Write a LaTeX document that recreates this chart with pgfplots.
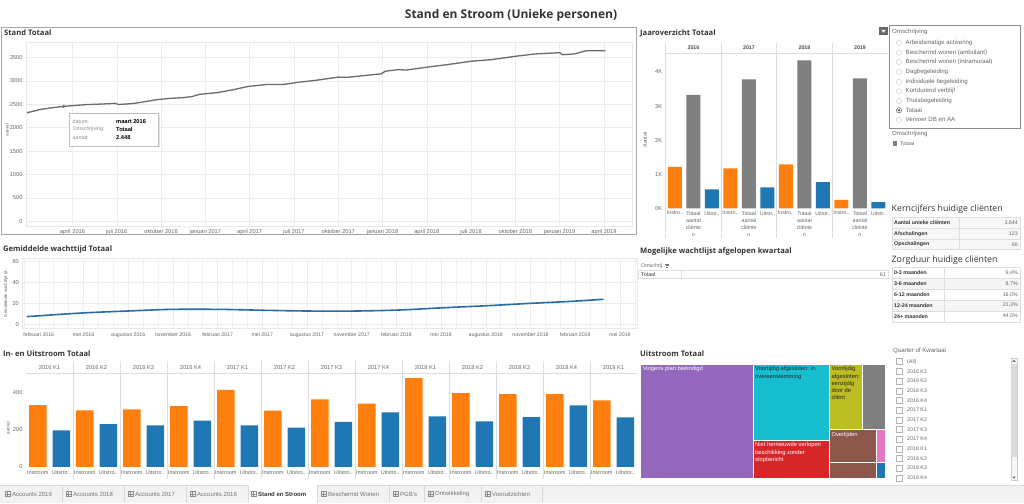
\documentclass[border=0pt]{standalone}
\usepackage{pgfplots}
\pgfplotsset{compat=1.18}
\usepackage{fontspec}
\setmainfont{Liberation Sans}
\newfontfamily\tfont{Open Sans}
\definecolor{tor}{HTML}{FF7F0E}
\definecolor{tbl}{HTML}{1F77B4}
\definecolor{tgr}{HTML}{7F7F7F}
\definecolor{tpu}{HTML}{9467BD}
\definecolor{tcy}{HTML}{17BECF}
\definecolor{tre}{HTML}{D62728}
\definecolor{tol}{HTML}{BCBD22}
\definecolor{tbr}{HTML}{8C564B}
\definecolor{tpi}{HTML}{E377C2}
\definecolor{txt}{HTML}{333333}
\definecolor{lbl}{HTML}{666666}
\definecolor{gridc}{HTML}{EDEDED}
\definecolor{sep}{HTML}{DDDDDD}
\definecolor{wline}{HTML}{2A6BAA}
\newcommand\fs{\fontsize{5.7}{6.6}\selectfont}
\newcommand\fx{\fontsize{5.3}{6.2}\selectfont}
\newcommand\fy{\fontsize{6.1}{7}\selectfont}
\newcommand\ft{\tfont\bfseries\fontsize{7.6}{9}\selectfont}
\newcommand\trow[6]{%
  \filldraw[draw=black!13, fill=#6] (892,503-#1) rectangle (#3,503-#2);
  \filldraw[draw=black!13, fill=#6] (#3,503-#1) rectangle (1020,503-#2);
  \node[anchor=west, font=\fx\bfseries, text=txt, inner sep=0pt] at (894,{503-(#1+#2)/2}) {#4};
  \node[anchor=east, font=\fx, text=lbl, inner sep=0pt] at (1018,{503-(#1+#2)/2}) {#5};
}
\newcommand\tabicon[1]{%
  \draw[black!45, line width=0.4pt] (#1,503-491.5) rectangle ++(5,-5);
  \draw[black!45, line width=0.4pt] (#1+2.5,503-491.5) -- ++(0,-5);
  \draw[black!45, line width=0.4pt] (#1,503-494) -- ++(5,0);
}
\pgfplotsset{
  tab/.style={scale only axis, axis line style={draw=none}, tick style={draw=none},
    tick label style={font=\fs, text=lbl},
    /pgf/number format/assume math mode=true,
    /pgf/number format/1000 sep={},
    major grid style={draw=gridc, line width=0.5pt}},
}
\begin{document}
\begin{tikzpicture}[x=1pt,y=1pt]
\path[use as bounding box, fill=white] (0,0) rectangle (1024,503);

% main title
\node[font=\tfont\bfseries\fontsize{12}{14}\selectfont, text=txt] at (511,503-15) {Stand en Stroom (Unieke personen)};

% ================= Stand Totaal =================
\draw[black!35, line width=0.9pt] (1.5,503-27) rectangle (636,503-234);
\node[anchor=west, font=\ft, text=txt, inner sep=0pt] at (4,503-33) {Stand Totaal};
\begin{axis}[tab, at={(26pt,277pt)}, anchor=south west, width=606pt, height=184pt,
  axis line style={draw=black!9},
  xmin=-0.15, xmax=40.9, ymin=-100, ymax=3830,
  xtick={3,6,...,39},
  xticklabels={april 2016,juli 2016,oktober 2016,januari 2017,april 2017,juli 2017,oktober 2017,januari 2018,april 2018,juli 2018,oktober 2018,januari 2019,april 2019},
  ytick={0,500,...,3500}, xmajorgrids, ymajorgrids]
\addplot[color=black!58, line width=1.3pt] coordinates {
(-0.08,2318) (0.8,2388) (1.6,2425) (2.4,2455) (3.2,2475) (4,2494) (5,2505) (5.9,2520) (6.1,2495) (7.1,2515)
(8,2560) (8.75,2600) (9.6,2625) (10.5,2642) (11.1,2665) (11.6,2712) (12.8,2748) (13.8,2805) (14.9,2881)
(16.2,2924) (17.3,2924) (18.4,2974) (19.4,3008) (21.0,3080) (21.6,3075) (22.4,3101) (23.9,3150) (24.2,3207)
(25.1,3241) (25.6,3230) (27.0,3292) (28.4,3347) (30.0,3419) (31.4,3453) (33.0,3525) (34.3,3574) (36.0,3602)
(36.2,3559) (37.0,3574) (37.8,3644) (39.1,3644)};
\addplot[only marks, mark=*, mark size=1.3pt, color=black!58] coordinates {(2.4,2455)};
\end{axis}
\node[rotate=90, font=\fontsize{4.5}{5}\selectfont, text=lbl] at (7,503-130) {aantal};
% tooltip
\fill[black!10] (70.5,503-115) rectangle (159.8,503-147.5);
\filldraw[draw=black!25, fill=white] (69,503-113.3) rectangle (158.3,503-146);
\node[anchor=west, font=\fx, text=black!45, inner sep=0pt] at (72.5,503-121.7) {datum:};
\node[anchor=west, font=\fx, text=black!45, inner sep=0pt] at (72.5,503-129.3) {Omschrijving:};
\node[anchor=west, font=\fx, text=black!45, inner sep=0pt] at (72.5,503-137.3) {aantal:};
\node[anchor=west, font=\fs\bfseries, text=black, inner sep=0pt] at (116,503-121.7) {maart 2016};
\node[anchor=west, font=\fs\bfseries, text=black, inner sep=0pt] at (116,503-129.3) {Totaal};
\node[anchor=west, font=\fs\bfseries, text=black, inner sep=0pt] at (116,503-137.3) {2.448};

% ================= Jaaroverzicht =================
\node[anchor=west, font=\ft, text=txt, inner sep=0pt] at (640,503-33) {Jaaroverzicht Totaal};
\foreach \p in {0,1,2,3} {\draw[sep, line width=0.5pt] ({665.7+3*\p*18.5},503-43) -- ({665.7+3*\p*18.5},503-238);}
\draw[sep, line width=0.5pt] (665.7,503-53.3) -- (887.7,503-53.3);
\foreach \lab [count=\p from 0] in {2016,2017,2018,2019} {\node[font=\fx\bfseries, text=black!70] at ({665.7+(3*\p+1.5)*18.5},503-47.7) {\lab};}
\begin{axis}[tab, at={(665.7pt,294pt)}, anchor=south west, width=222pt, height=155.7pt,
  xmin=0, xmax=12, ymin=-15, ymax=4545, clip=false,
  xtick={0.5,1.5,...,11.5},
  xticklabels={Instro..,{Totaal\\aantal\\cliënte\\n},Uitstr..,Instro..,{Totaal\\aantal\\cliënte\\n},Uitstr..,Instro..,{Totaal\\aantal\\cliënte\\n},Uitstr..,Instro..,{Totaal\\aantal\\cliënte\\n},Uitstr..},
  xticklabel style={align=center, font=\fontsize{5.3}{7}\selectfont, text=lbl, inner sep=1pt, yshift=-1pt},
  ytick={0,1000,...,4000}, yticklabels={0K,1K,2K,3K,4K}]
\addplot[ybar, bar width=14pt, bar shift=0pt, fill=tor, draw=none] coordinates {(0.5,1222) (3.5,1173) (6.5,1290) (9.5,254)};
\addplot[ybar, bar width=14pt, bar shift=0pt, fill=tgr, draw=none] coordinates {(1.5,3324) (4.5,3783) (7.5,4340) (10.5,3812)};
\addplot[ybar, bar width=14pt, bar shift=0pt, fill=tbl, draw=none] coordinates {(2.5,557) (5.5,616) (8.5,772) (11.5,185)};
\end{axis}
\node[rotate=90, font=\fx, text=lbl] at (645,503-140) {Aantal};

% ================= Omschrijving filter =================
\fill[black!60] (879,503-27) rectangle (888,503-35.3);
\fill[white] (881.2,503-29.8) -- (885.8,503-29.8) -- (883.5,503-32.6) -- cycle;
\draw[black!45, line width=0.6pt] (889.3,503-25.3) rectangle (1020,503-128.7);
\node[anchor=west, font=\fy, text=lbl, inner sep=0pt] at (892,503-32) {Omschrijving};
\foreach \t/\yy in {Arbeidsmatige activering/42.7, {Beschermd wonen (ambulant)}/52.7, {Beschermd wonen (intramuraal)}/62, Dagbegeleiding/72, Individuele begeleiding/82, Kortdurend verblijf/91.3, Thuisbegeleiding/101, Totaal/110.3, Vervoer DB en AA/119.7}
{\draw[black!22, line width=0.4pt] (899,503-\yy) circle (2.6);
 \node[anchor=west, font=\fy, text=lbl, inner sep=0pt] at (905.5,503-\yy) {\t};}
\draw[black!55, line width=0.5pt] (899,503-110.3) circle (2.6);
\fill[black!75] (899,503-110.3) circle (1.2);
\node[anchor=west, font=\fy, text=lbl, inner sep=0pt] at (892,503-134.3) {Omschrijving};
\fill[tgr] (892.7,503-141.3) rectangle (897.3,503-145.7);
\node[anchor=west, font=\fx, text=lbl, inner sep=0pt] at (899.8,503-143.5) {Totaal};

% ================= Kerncijfers / Zorgduur =================
\node[anchor=west, font=\tfont\fontsize{8.8}{10}\selectfont, text=txt, inner sep=0pt] at (891.5,503-209.3) {Kerncijfers huidige cliënten};
\trow{217.7}{228.3}{959}{Aantal unieke cliënten}{3.644}{black!3}
\trow{228.3}{239}{959}{Afschalingen}{123}{black!3}
\trow{239}{249.6}{959}{Opschalingen}{66}{black!3}
\node[anchor=west, font=\tfont\fontsize{8.8}{10}\selectfont, text=txt, inner sep=0pt] at (891.5,503-260.3) {Zorgduur huidige cliënten};
\trow{267.2}{278.1}{944}{0-3 maanden}{9,4\%}{white}
\trow{278.1}{289.1}{944}{3-6 maanden}{8,7\%}{black!4}
\trow{289.1}{300}{944}{6-12 maanden}{16,0\%}{white}
\trow{300}{310.9}{944}{12-24 maanden}{21,3\%}{black!4}
\trow{310.9}{321.8}{944}{24+ maanden}{44,5\%}{white}

% ================= Gemiddelde wachttijd =================
\node[anchor=west, font=\ft, text=txt, inner sep=0pt] at (3,503-249.5) {Gemiddelde wachttijd Totaal};
\begin{axis}[tab, at={(22.4pt,175pt)}, anchor=south west, width=614.6pt, height=69.7pt,
  axis line style={draw=black!9},
  xmin=-0.1, xmax=41.15, ymin=-3.8, ymax=63.2, ytick={0,20,40,60},
  xtick={1,4,...,40},
  xticklabels={februari 2016,mei 2016,augustus 2016,november 2016,februari 2017,mei 2017,augustus 2017,november 2017,februari 2018,mei 2018,augustus 2018,november 2018,februari 2019,mei 2019},
  minor xtick={0,1,...,41}, xminorgrids, xmajorgrids, ymajorgrids,
  minor grid style={draw=gridc!70, line width=0.4pt},
  xticklabel style={font=\fontsize{5.2}{6}\selectfont, yshift=-1pt}]
\addplot[wline, line width=1.6pt, smooth] coordinates {
(0.18,7.1) (3.87,10.6) (7.43,12.8) (9.9,14.1) (13.2,14.1) (16.2,13.2) (19.2,12.5) (22.2,12.5) (25.2,13.5)
(28.2,15.7) (31.2,17.7) (34.0,19.9) (36.7,21.8) (38.9,23.8)};
\end{axis}
\node[rotate=90, font=\fontsize{4.3}{5}\selectfont, text=lbl] at (6,503-293) {Gemiddelde wachttijd (d..};

% ================= Mogelijke wachtlijst =================
\node[anchor=west, font=\ft, text=txt, inner sep=0pt] at (640,503-252) {Mogelijke wachtlijst afgelopen kwartaal};
\node[anchor=west, font=\fx, text=lbl, inner sep=0pt] at (641,503-265.7) {Omschrij..};
\draw[black!55, line width=0.5pt] (665,503-263.8) -- ++(4,0) (665.5,503-265.6) -- ++(3,0) (666,503-267.4) -- ++(2,0);
\draw[black!13] (638,503-270.7) rectangle (888,503-278.3);
\draw[black!13] (681,503-270.7) -- (681,503-278.3);
\node[anchor=west, font=\fx, text=txt, inner sep=0pt] at (641,503-274.5) {Totaal};
\node[anchor=east, font=\fx, text=lbl, inner sep=0pt] at (886,503-274.5) {61};

% ================= In- en Uitstroom =================
\node[anchor=west, font=\ft, text=txt, inner sep=0pt] at (3,503-353.5) {In- en Uitstroom Totaal};
\foreach \i in {1,...,12} {\draw[sep, line width=0.5pt] ({26+2*\i*23.5},503-361) -- ({26+2*\i*23.5},503-479);}
\draw[sep, line width=0.5pt] (26,503-373.3) -- (637,503-373.3);
\foreach \lab [count=\i from 0] in {2016 K1,2016 K2,2016 K3,2016 K4,2017 K1,2017 K2,2017 K3,2017 K4,2018 K1,2018 K2,2018 K3,2018 K4,2019 K1}
{\node[font=\fs, text=lbl] at ({26+(2*\i+1)*23.5},503-367.5) {\lab};}
\begin{axis}[tab, at={(26pt,35.5pt)}, anchor=south west, width=611pt, height=94.2pt,
  xmin=0, xmax=26, ymin=-4, ymax=505, ytick={0,200,400}, clip=false,
  xtick={0.5,1.5,...,25.5},
  xticklabels={Instroom,Uitstro..,Instroom,Uitstro..,Instroom,Uitstro..,Instroom,Uitstro..,Instroom,Uitstro..,Instroom,Uitstro..,Instroom,Uitstro..,Instroom,Uitstro..,Instroom,Uitstro..,Instroom,Uitstro..,Instroom,Uitstro..,Instroom,Uitstro..,Instroom,Uitstro..},
  xticklabel style={font=\fontsize{5.5}{6.4}\selectfont, inner sep=1pt, text height=4.2pt, text depth=1pt, yshift=-1.5pt}]
\addplot[ybar, bar width=17.5pt, bar shift=0pt, fill=tor, draw=none] coordinates {
(0.5,333) (2.5,305) (4.5,310) (6.5,328) (8.5,416) (10.5,303) (12.5,364) (14.5,341) (16.5,479) (18.5,398) (20.5,393) (22.5,393) (24.5,359)};
\addplot[ybar, bar width=17.5pt, bar shift=0pt, fill=tbl, draw=none] coordinates {
(1.5,196) (3.5,231) (5.5,223) (7.5,249) (9.5,223) (11.5,211) (13.5,243) (15.5,294) (17.5,272) (19.5,245) (21.5,268) (23.5,332) (25.5,267)};
\end{axis}
\node[rotate=90, font=\fontsize{4.5}{5}\selectfont, text=lbl] at (8,503-428) {aantal};

% ================= Uitstroom treemap =================
\node[anchor=west, font=\ft, text=txt, inner sep=0pt] at (640,503-353.5) {Uitstroom Totaal};
\begin{axis}[at={(640.7pt,24.7pt)}, anchor=south west, scale only axis, width=244.6pt, height=114pt,
  xmin=640.7, xmax=885.3, ymin=364.3, ymax=478.3, y dir=reverse, hide axis, clip=false]
\addplot[fill=tpu, draw=white, line width=0.8pt] coordinates {(640.7,364.3) (753,364.3) (753,478.3) (640.7,478.3) (640.7,364.3)};
\addplot[fill=tcy, draw=white, line width=0.8pt] coordinates {(753,364.3) (829.7,364.3) (829.7,440.7) (753,440.7) (753,364.3)};
\addplot[fill=tre, draw=white, line width=0.8pt] coordinates {(753,440.7) (829.7,440.7) (829.7,478.3) (753,478.3) (753,440.7)};
\addplot[fill=tol, draw=white, line width=0.8pt] coordinates {(829.7,364.3) (862,364.3) (862,429.8) (829.7,429.8) (829.7,364.3)};
\addplot[fill=tgr, draw=white, line width=0.8pt] coordinates {(862,364.3) (885.3,364.3) (885.3,429.8) (862,429.8) (862,364.3)};
\addplot[fill=tbr, draw=white, line width=0.8pt] coordinates {(829.7,429.8) (876.3,429.8) (876.3,462.3) (829.7,462.3) (829.7,429.8)};
\addplot[fill=tbr, draw=white, line width=0.8pt] coordinates {(829.7,462.3) (876.3,462.3) (876.3,478.3) (829.7,478.3) (829.7,462.3)};
\addplot[fill=tpi, draw=white, line width=0.8pt] coordinates {(876.3,429.8) (885.3,429.8) (885.3,462.3) (876.3,462.3) (876.3,429.8)};
\addplot[fill=tbl, draw=white, line width=0.8pt] coordinates {(876.3,462.3) (885.3,462.3) (885.3,478.3) (876.3,478.3) (876.3,462.3)};
\end{axis}
\node[anchor=north west, font=\fontsize{5.8}{7.3}\selectfont, text=white, inner sep=0pt] at (642.7,503-366.3) {Volgens plan beëindigd};
\node[anchor=north west, font=\fontsize{5.8}{7.3}\selectfont, text=black!85, inner sep=0pt, align=left] at (755,503-366.3) {Voortijdig afgesloten: in\\overeenstemming};
\node[anchor=north west, font=\fontsize{5.8}{7.3}\selectfont, text=black!85, inner sep=0pt, align=left] at (831.3,503-366.3) {Voortijdig\\afgesloten:\\eenzijdig\\door de\\cliënt};
\node[anchor=north west, font=\fontsize{5.8}{7.3}\selectfont, text=white, inner sep=0pt, align=left] at (755,503-442.5) {Niet hernieuwde verlopen\\beschikking zonder\\stopbericht};
\node[anchor=north west, font=\fontsize{5.8}{7.3}\selectfont, text=white, inner sep=0pt] at (831.3,503-431.8) {Overlijden};

% ================= Quarter filter =================
\node[anchor=west, font=\fy, text=lbl, inner sep=0pt] at (893,503-351) {Quarter of Kwartaal};
\draw[black!30, fill=white, line width=0.4pt] (896.5,503-358.7) rectangle (902.5,503-364.7);
\node[anchor=west, font=\fx, text=lbl, inner sep=0pt] at (907,503-361.7) {(All)};
\foreach \lab [count=\i] in {2016 K1,2016 K2,2016 K3,2016 K4,2017 K1,2017 K2,2017 K3,2017 K4,2018 K1,2018 K2,2018 K3,2018 K4}
{\pgfmathsetmacro\yy{361.7+\i*9.67}
 \draw[black!30, fill=white, line width=0.4pt] (896.5,503-\yy+3) rectangle (902.5,503-\yy-3);
 \node[anchor=west, font=\fx, text=lbl, inner sep=0pt] at (907,503-\yy) {\lab};}
\draw[black!20, fill=black!3, line width=0.4pt] (1010.7,503-358.3) rectangle (1017.3,503-480);
\fill[black!14] (1011.3,503-364.5) rectangle (1016.7,503-457);
\fill[black!60] (1012.3,503-362) -- (1015.7,503-362) -- (1014,503-359.8) -- cycle;
\fill[black!60] (1012.3,503-476.5) -- (1015.7,503-476.5) -- (1014,503-478.7) -- cycle;

% ================= Tabs =================
\fill[black!5] (0,0) rectangle (1024,503-485);
\draw[black!15, line width=0.5pt] (0,503-485) -- (1024,503-485);
\fill[white] (248,0) rectangle (317,503-485.3);
\foreach \xx in {62,124,186,248,317,389,424,481,542} {\draw[black!15, line width=0.5pt] (\xx,503-486) -- (\xx,503-502);}
\foreach \xx in {5,66,128,190,251,321,393,428,485} {\tabicon{\xx}}
\foreach \xx/\t in {12/Accounts 2019, 73/Accounts 2018, 135/Accounts 2017, 197/Accounts 2016, 328/Beschermd Wonen, 400/PGB's, 435/Ontwikkeling, 492/Vooruitzichten}
{\node[anchor=west, font=\fontsize{6}{7}\selectfont, text=black!55, inner sep=0pt] at (\xx,503-494) {\t};}
\node[anchor=west, font=\fontsize{6}{7}\selectfont\bfseries, text=txt, inner sep=0pt] at (258,503-494) {Stand en Stroom};
\end{tikzpicture}
\end{document}
